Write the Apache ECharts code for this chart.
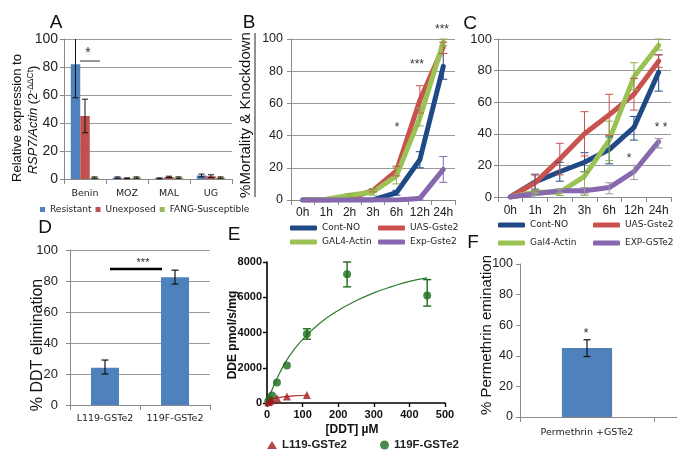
<!DOCTYPE html>
<html><head><meta charset="utf-8">
<script src="https://cdn.jsdelivr.net/npm/echarts@6/dist/echarts.min.js"></script>
<style>html,body{margin:0;padding:0;background:#fff}#c{width:685px;height:459px}</style>
</head><body><div id="c"></div>
<script>
// ---------- Panel A ----------
var aCats = ['Benin', 'MOZ', 'MAL', 'UG'];
var aResistant = [82, 1, 0.5, 2.5];
var aResistantErr = [[58, 106], [0.5, 1.5], [0.2, 0.8], [1.5, 3.5]];
var aUnexposed = [45, 0.5, 1.5, 2];
var aUnexposedErr = [[33, 57], [0.2, 0.8], [1, 2], [1, 3]];
var aSusceptible = [1, 1, 1, 1];
var aSusceptibleErr = [[0.5, 1.5], [0.5, 1.5], [0.5, 1.5], [0.5, 1.5]];
var aTicks = [0, 20, 40, 60, 80, 100];

// ---------- Panel B ----------
var timeCats = ['0h', '1h', '2h', '3h', '6h', '12h', '24h'];
var bContNO = [0, 0, 0, 0, 4.5, 25, 83];
var bContNOErr = [null, null, null, null, [3, 6], [20, 30], [75, 91]];
var bUAS = [0, 0, 1, 6, 18, 62, 95];
var bUASErr = [null, null, null, [5, 7], [15, 21], [54, 71], [91, 98]];
var bGAL4 = [0, 0.5, 3, 5, 15, 51, 98];
var bGAL4Err = [null, null, [2, 4], [3, 7], [10, 20], [46, 57], [96, 100]];
var bExp = [0, 0, 0, 0, 0, 1, 19];
var bExpErr = [null, null, null, null, null, [0, 2], [11, 27]];

// ---------- Panel C ----------
var cContNO = [0, 9.5, 16, 22, 30, 44, 79];
var cContNOErr = [null, [5, 14], [10, 22], [16, 28], [21, 38], [36, 51], [67, 90]];
var cUAS = [0, 9, 24, 40, 52, 65, 86];
var cUASErr = [null, [4, 14.5], [14, 34], [26, 54], [39, 65], [55, 75], [82, 90]];
var cGAL4 = [0, 3, 3, 13, 36, 76, 96];
var cGAL4Err = [null, [2, 4], [1, 5], [1, 16], [23, 48], [68, 85], [93, 100]];
var cExp = [0, 2, 4, 4, 6, 16, 35];
var cExpErr = [null, [1, 3], [3, 5], [2, 6], [2, 9], [11, 20], [31, 37]];

// ---------- Panel D ----------
var dCats = ['L119-GSTe2', '119F-GSTe2'];
var dValues = [24, 82.5];
var dErr = [[20, 29], [78, 87]];

// ---------- Panel E ----------
var eF_x = [3.5, 7, 14, 28, 56, 112, 225, 450];
var eF_y = [80, 190, 420, 1170, 2130, 3920, 7300, 6100];
var eF_err = [null, null, null, null, null, [3620, 4210], [6590, 8000], [5500, 7000]];
var eL_x = [3.5, 7, 14, 28, 56, 112];
var eL_y = [40, 80, 150, 280, 370, 460];
var eFitF_x = [0, 10, 25, 50, 75, 100, 150, 200, 250, 300, 350, 400, 450];
var eFitF_y = [0, 550, 1250, 2250, 3000, 3600, 4550, 5250, 5800, 6250, 6600, 6900, 7100];
var eFitL_x = [0, 5, 10, 20, 30, 50, 75, 112];
var eFitL_y = [0, 100, 170, 250, 300, 360, 400, 440];

// ---------- Panel F ----------
var fCats = ['Permethrin +GSTe2'];
var fValues = [45];
var fErr = [[39.5, 50.5]];

// ---------- helpers ----------
var FONT = 'Liberation Sans, Arial, sans-serif';
var VFONT = 'DejaVu Sans, Verdana, sans-serif';
var C_BLUE = '#4F81BD', C_RED = '#C0504D', C_GREEN = '#9BBB59';
var L_BLUE = '#1F4A86', L_RED = '#C9524E', L_GREEN = '#9BC255', L_PURPLE = '#8767AE';

function errData(arr, xs) {
  var out = [];
  arr.forEach(function (e, i) {
    if (e) out.push([xs ? xs[i] : i, e[0], e[1]]);
  });
  return out;
}
function errBar(color, cap, offset, lw) {
  return function (params, api) {
    var x = api.value(0), lo = api.value(1), hi = api.value(2);
    var a = api.coord([x, lo]), b = api.coord([x, hi]);
    var cs = params.coordSys;
    var px = a[0] + (offset || 0);
    var st = { stroke: color, lineWidth: lw || 1 };
    var topY = Math.max(b[1], cs.y);
    var kids = [{ type: 'line', shape: { x1: px, y1: a[1], x2: px, y2: topY }, style: st }];
    kids.push({ type: 'line', shape: { x1: px - cap, y1: a[1], x2: px + cap, y2: a[1] }, style: st });
    if (b[1] >= cs.y) kids.push({ type: 'line', shape: { x1: px - cap, y1: b[1], x2: px + cap, y2: b[1] }, style: st });
    return { type: 'group', children: kids };
  };
}
function errSeries(data, xi, yi, color, cap, offset, lw, z) {
  return { type: 'custom', xAxisIndex: xi, yAxisIndex: yi, data: data, z: z || 5,
    renderItem: errBar(color, cap, offset, lw), silent: true };
}
function pairs(xs, ys) { return xs.map(function (x, i) { return [x, ys[i]]; }); }
function gridLine() { return { show: true, lineStyle: { color: '#9a9a9a', width: 1 } }; }
function plain(v) { return String(v); }
function catAxis(gi, data, fam, fs, margin) {
  return { gridIndex: gi, type: 'category', data: data, boundaryGap: true,
    axisLine: { lineStyle: { color: '#8a8a8a' } },
    axisTick: { show: true, length: 5, lineStyle: { color: '#8a8a8a' } },
    axisLabel: { fontFamily: fam, fontSize: fs, color: '#222', margin: margin, interval: 0 } };
}
function valAxis(gi, fs, margin, split) {
  return { gridIndex: gi, type: 'value', min: 0, max: 100, interval: 20,
    axisLine: { show: true, lineStyle: { color: '#8a8a8a' } },
    axisTick: { show: true, length: 4, lineStyle: { color: '#8a8a8a' } },
    splitLine: split ? gridLine() : { show: false },
    axisLabel: { fontFamily: FONT, fontSize: fs, color: '#222', margin: margin } };
}
function lineSeries(name, xi, data, color, z) {
  return { name: name, type: 'line', xAxisIndex: xi, yAxisIndex: xi, data: data, symbol: 'none',
    lineStyle: { width: 5, color: color, cap: 'round', join: 'round' }, itemStyle: { color: color }, z: z, silent: true };
}
function legendItem(name, left, top, fam, fs, icon, w, h, bold) {
  return { left: left, top: top, padding: 0, selectedMode: false, itemWidth: w, itemHeight: h,
    data: [{ name: name, icon: icon }],
    textStyle: { fontFamily: fam, fontSize: fs, color: '#222', fontWeight: bold ? 'bold' : 'normal', lineHeight: 12 } };
}
function txt(x, y, t, fs, opts) {
  opts = opts || {};
  return { type: 'text', x: x, y: y, rotation: opts.rot || 0, z: 100,
    style: { text: t, fontSize: fs, fontFamily: opts.fam || FONT, fontWeight: opts.bold ? 'bold' : 'normal',
      fill: opts.color || '#111', textAlign: 'center', textVerticalAlign: 'middle', rich: opts.rich } };
}
function seg(x1, y1, x2, y2, color, w) {
  return { type: 'line', z: 100, shape: { x1: x1, y1: y1, x2: x2, y2: y2 }, style: { stroke: color, lineWidth: w } };
}

var chart = echarts.init(document.getElementById('c'), null, { renderer: 'canvas' });
var R90 = Math.PI / 2;

var option = {
  animation: false,
  backgroundColor: '#fff',
  grid: [
    { left: 64, top: 39, width: 168, height: 140 },
    { left: 291, top: 39, width: 164, height: 161 },
    { left: 498, top: 39, width: 173, height: 158 },
    { left: 70, top: 250, width: 140, height: 155 },
    { left: 267, top: 262, width: 178, height: 141 },
    { left: 520, top: 264, width: 134, height: 153 }
  ],
  xAxis: [
    catAxis(0, aCats, VFONT, 9.5, 10),
    catAxis(1, timeCats, FONT, 12, 7),
    catAxis(2, timeCats, FONT, 12, 8),
    catAxis(3, dCats, VFONT, 9.5, 9),
    { gridIndex: 4, type: 'value', min: 0, max: 500, interval: 100,
      axisLine: { lineStyle: { color: '#000', width: 1.6 } },
      axisTick: { show: true, length: 4, lineStyle: { color: '#000', width: 1.4 } },
      splitLine: { show: false },
      axisLabel: { fontFamily: FONT, fontSize: 11, fontWeight: 'bold', color: '#111', margin: 6, formatter: plain } },
    catAxis(5, fCats, VFONT, 9.5, 11)
  ],
  yAxis: [
    valAxis(0, 14, 6, true),
    valAxis(1, 12.5, 8, true),
    valAxis(2, 13, 6, true),
    valAxis(3, 13, 12, true),
    { gridIndex: 4, type: 'value', min: 0, max: 8000, interval: 2000,
      axisLine: { show: true, lineStyle: { color: '#000', width: 1.6 } },
      axisTick: { show: true, length: 4, lineStyle: { color: '#000', width: 1.4 } },
      splitLine: { show: false },
      axisLabel: { fontFamily: FONT, fontSize: 11, fontWeight: 'bold', color: '#111', margin: 5, formatter: plain } },
    valAxis(5, 12.5, 7, false)
  ],
  legend: [
    { left: 40, top: 205, padding: 0, selectedMode: false, itemWidth: 5, itemHeight: 5, itemGap: 4,
      data: [{ name: 'Resistant', icon: 'rect' }, { name: 'Unexposed', icon: 'rect' }, { name: 'FANG-Susceptible', icon: 'rect' }],
      textStyle: { fontFamily: VFONT, fontSize: 9, color: '#222' } },
    legendItem('Cont-NO', 290, 222, VFONT, 9, 'roundRect', 27, 5),
    legendItem('UAS-Gste2', 378, 222, VFONT, 9, 'roundRect', 27, 5),
    legendItem('GAL4-Actin', 290, 236, VFONT, 9, 'roundRect', 27, 5),
    legendItem('Exp-Gste2', 378, 236, VFONT, 9, 'roundRect', 27, 5),
    legendItem('Cont-NO', 498, 219, VFONT, 9, 'roundRect', 27, 5),
    legendItem('UAS-Gste2', 593, 219, VFONT, 9, 'roundRect', 27, 5),
    legendItem('Gal4-Actin', 498, 237, VFONT, 9, 'roundRect', 27, 5),
    legendItem('EXP-GSTe2', 593, 237, VFONT, 9, 'roundRect', 27, 5),
    legendItem('L119-GSTe2', 267, 439, FONT, 11.5, 'triangle', 10, 8, true),
    legendItem('119F-GSTe2', 380, 439, FONT, 11.5, 'circle', 9, 9, true)
  ],
  series: [
    // A
    { name: 'Resistant', type: 'bar', xAxisIndex: 0, yAxisIndex: 0, data: aResistant, barWidth: 9.5, barGap: '0%', itemStyle: { color: C_BLUE }, silent: true },
    { name: 'Unexposed', type: 'bar', xAxisIndex: 0, yAxisIndex: 0, data: aUnexposed, barWidth: 9.5, barGap: '0%', itemStyle: { color: C_RED }, silent: true },
    { name: 'FANG-Susceptible', type: 'bar', xAxisIndex: 0, yAxisIndex: 0, data: aSusceptible, barWidth: 9.5, barGap: '0%', itemStyle: { color: C_GREEN }, silent: true },
    errSeries(errData(aResistantErr), 0, 0, '#111', 3, -9.5, 1),
    errSeries(errData(aUnexposedErr), 0, 0, '#111', 3, 0, 1),
    errSeries(errData(aSusceptibleErr), 0, 0, '#111', 3, 9.5, 1),
    // B
    lineSeries('Cont-NO', 1, bContNO, L_BLUE, 2),
    lineSeries('UAS-Gste2', 1, bUAS, L_RED, 3),
    lineSeries('GAL4-Actin', 1, bGAL4, L_GREEN, 4),
    lineSeries('Exp-Gste2', 1, bExp, L_PURPLE, 5),
    errSeries(errData(bContNOErr), 1, 1, L_BLUE, 4, 0, 1, 6),
    errSeries(errData(bUASErr), 1, 1, L_RED, 4, 0, 1, 6),
    errSeries(errData(bGAL4Err), 1, 1, '#8DAF4B', 4, 0, 1, 6),
    errSeries(errData(bExpErr), 1, 1, L_PURPLE, 4, 0, 1, 6),
    // C
    lineSeries('Cont-NO', 2, cContNO, L_BLUE, 2),
    lineSeries('UAS-Gste2', 2, cUAS, L_RED, 3),
    lineSeries('Gal4-Actin', 2, cGAL4, L_GREEN, 4),
    lineSeries('EXP-GSTe2', 2, cExp, L_PURPLE, 5),
    errSeries(errData(cContNOErr), 2, 2, L_BLUE, 4, 0, 1, 6),
    errSeries(errData(cUASErr), 2, 2, L_RED, 4, 0, 1, 6),
    errSeries(errData(cGAL4Err), 2, 2, '#8DAF4B', 4, 0, 1, 6),
    errSeries(errData(cExpErr), 2, 2, '#9a9a9a', 4, 0, 1, 6),
    // D
    { name: 'D', type: 'bar', xAxisIndex: 3, yAxisIndex: 3, data: dValues, barWidth: 28, itemStyle: { color: C_BLUE }, silent: true },
    errSeries(errData(dErr), 3, 3, '#111', 3.5, 0, 1.2),
    // E
    { name: 'fitF', type: 'line', xAxisIndex: 4, yAxisIndex: 4, data: pairs(eFitF_x, eFitF_y), smooth: true, symbol: 'none', lineStyle: { color: '#2E7D2E', width: 1.2 }, silent: true, z: 3 },
    { name: 'fitL', type: 'line', xAxisIndex: 4, yAxisIndex: 4, data: pairs(eFitL_x, eFitL_y), smooth: true, symbol: 'none', lineStyle: { color: '#B0303A', width: 1.2 }, silent: true, z: 3 },
    { name: '119F-GSTe2', type: 'scatter', xAxisIndex: 4, yAxisIndex: 4, data: pairs(eF_x, eF_y), symbol: 'circle', symbolSize: 8, itemStyle: { color: '#1B6B1B' }, z: 5, silent: true },
    { name: 'L119-GSTe2', type: 'scatter', xAxisIndex: 4, yAxisIndex: 4, data: pairs(eL_x, eL_y), symbol: 'triangle', symbolSize: 8, itemStyle: { color: '#A3161E' }, z: 5, silent: true },
    errSeries(errData(eF_err, eF_x), 4, 4, '#1B6B1B', 4, 0, 1.4, 6),
    // F
    { name: 'F', type: 'bar', xAxisIndex: 5, yAxisIndex: 5, data: fValues, barWidth: 50, itemStyle: { color: C_BLUE, borderColor: '#3A68A0', borderWidth: 0.8 }, silent: true },
    errSeries(errData(fErr), 5, 5, '#111', 3.5, 0, 1.2)
  ],
  graphic: [
    // panel letters
    txt(56, 23, 'A', 19), txt(249, 23, 'B', 19), txt(470, 24, 'C', 19),
    txt(45, 228, 'D', 19), txt(234, 235, 'E', 19), txt(473, 243, 'F', 19),
    // A axis title
    txt(17, 118, 'Relative expression to', 13, { rot: R90 }),
    txt(33, 120, '{i|RSP7/Actin} (2{s|-ΔΔCt})', 13, { rot: R90,
      rich: { i: { fontStyle: 'italic', fontSize: 13, fontFamily: FONT, fill: '#111' }, s: { fontSize: 8.5, fontFamily: FONT, verticalAlign: 'top', fill: '#111' } } }),
    // A significance
    seg(80, 61, 100, 61, '#777', 1.5), txt(88, 53, '*', 14, { color: '#333' }),
    // B title with underline
    txt(246, 115, '%Mortality & Knockdown', 15, { rot: R90 }),
    seg(255, 33, 255, 197, '#222', 1),
    // B/C asterisks
    txt(397, 128, '*', 12, { color: '#333' }), txt(417, 65, '***', 12, { color: '#333' }), txt(442, 30, '***', 12, { color: '#333' }),
    txt(629, 159, '*', 12, { color: '#333' }), txt(661, 128, '* *', 12, { color: '#333' }),
    // D
    txt(38, 345, '% DDT elimination', 16, { rot: R90 }),
    seg(110, 269, 162, 269, '#000', 2.5), txt(143, 263, '***', 11, { color: '#333' }),
    // E titles
    txt(233, 335, 'DDE pmol/s/mg', 12, { rot: R90, bold: true }),
    txt(352, 430, '[DDT] µM', 12, { bold: true }),
    // F
    txt(487, 335, '% Permethrin emination', 15, { rot: R90 }),
    seg(654, 417.5, 677, 417.5, '#8a8a8a', 1),
    txt(586, 333, '*', 13, { color: '#333' })
  ]
};
chart.setOption(option);
</script>
</body></html>
